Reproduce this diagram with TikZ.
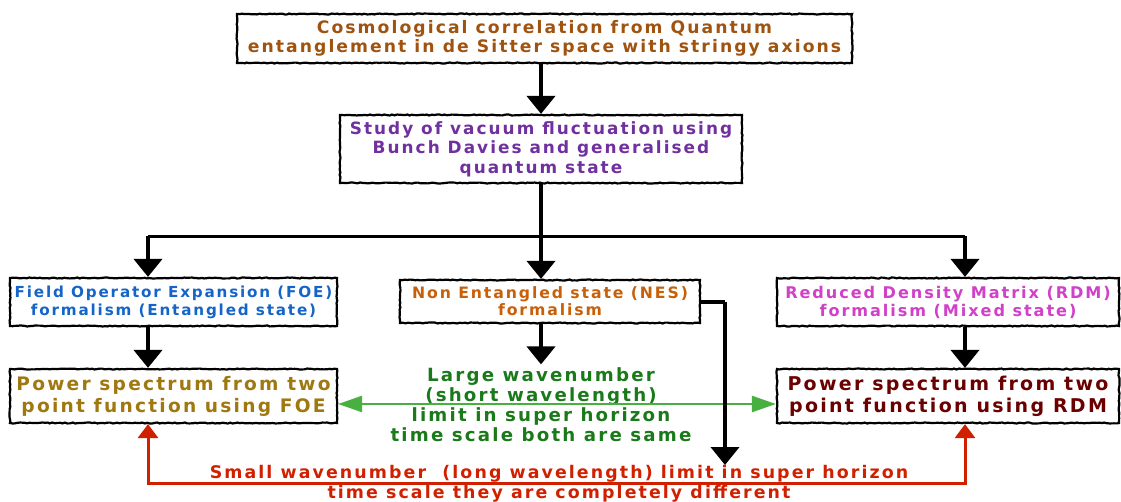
\documentclass[tikz,border=0pt]{standalone}
\usepackage{fontspec}
\setmainfont{DejaVu Sans}[LetterSpace=12]
\usepackage{tikz}
\usetikzlibrary{arrows.meta,decorations.pathmorphing}

\definecolor{topbrown}{HTML}{A0520F}
\definecolor{studypurple}{HTML}{7030A0}
\definecolor{foeblue}{HTML}{1565C8}
\definecolor{nesorange}{HTML}{C8600A}
\definecolor{rdmpink}{HTML}{D040C8}
\definecolor{pfoegold}{HTML}{A07810}
\definecolor{prdmred}{HTML}{6B0000}
\definecolor{limgreen}{HTML}{1A7A1A}
\definecolor{arrgreen}{HTML}{48B040}
\definecolor{limred}{HTML}{D02000}

\tikzset{
    box/.style={draw=black, line width=2.2pt, align=center, inner sep=2pt,
        decoration={random steps, segment length=2.5pt, amplitude=0.5pt},
        decorate},
    bigarrow/.style={line width=4pt, -{Triangle[width=28pt,length=18pt]}},
    greenarrow/.style={draw=arrgreen, line width=2.5pt,
        {Triangle[width=16pt,length=24pt]}-{Triangle[width=16pt,length=24pt]}},
    redarrow/.style={draw=limred, line width=3pt,
        {Triangle[width=20pt,length=14pt]}-{Triangle[width=20pt,length=14pt]}},
    limtext/.style={align=center}
}

\begin{document}
\begin{tikzpicture}[x=1pt, y=-1pt]
    \useasboundingbox (0,0) rectangle (1121,501);

    \node[box, text=topbrown, minimum width=615pt, minimum height=49pt,
        font=\bfseries\fontsize{17.2}{19}\selectfont] (top) at (544.5,38.5)
        {Cosmological correlation from Quantum\\entanglement in de Sitter space with stringy axions};
    \node[box, text=studypurple, minimum width=402pt, minimum height=68pt,
        font=\bfseries\fontsize{16.9}{19.5}\selectfont] (study) at (541,149)
        {Study of vacuum fluctuation using\\Bunch Davies and generalised\\quantum state};
    \node[box, text=foeblue, minimum width=327pt, minimum height=48pt,
        font=\bfseries\fontsize{15.2}{18}\selectfont] (foe) at (173.5,302)
        {Field Operator Expansion (FOE)\\formalism (Entangled state)};
    \node[box, text=nesorange, minimum width=300pt, minimum height=43pt,
        font=\bfseries\fontsize{15.7}{17}\selectfont] (nes) at (550,301.5)
        {Non Entangled state (NES)\\formalism};
    \node[box, text=rdmpink, minimum width=342pt, minimum height=48pt,
        font=\bfseries\fontsize{16.1}{18}\selectfont] (rdm) at (948,302)
        {Reduced Density Matrix (RDM)\\formalism (Mixed state)};
    \node[box, text=pfoegold, minimum width=327pt, minimum height=54pt,
        font=\bfseries\fontsize{18.6}{22}\selectfont] (pfoe) at (173.5,396)
        {Power spectrum from two\\point function using FOE};
    \node[box, text=prdmred, minimum width=342pt, minimum height=54pt,
        font=\bfseries\fontsize{19}{22}\selectfont] (prdm) at (948,396)
        {Power spectrum from two\\point function using RDM};

    \node[limtext, text=limgreen, font=\bfseries\fontsize{18.2}{20}\selectfont] (same) at (541,405)
        {Large wavenumber\\(short wavelength)\\limit in super horizon\\time scale both are same};
    \node[limtext, text=limred, font=\bfseries\fontsize{17.4}{20}\selectfont] (diff) at (559,483.5)
        {Small wavenumber\ \ (long wavelength) limit in super horizon\\time scale they are completely different};

    \coordinate (hub) at (541,236);
    \coordinate (lft) at (148,236);
    \coordinate (rgt) at (965,236);
    \coordinate (nesbend) at (725,301.5);
    \coordinate (nesend) at (725,465);
    \coordinate (gline) at (0,404);
    \coordinate (rline) at (0,483);

    \draw[bigarrow] (top.south -| study.north) -- (study.north);
    \draw[bigarrow] (study.south) -- (hub |- nes.north);
    \draw[line width=3pt] (lft) -- (rgt);
    \draw[bigarrow] (lft) -- (lft |- foe.north);
    \draw[bigarrow] (rgt) -- (rgt |- rdm.north);
    \draw[bigarrow] (lft |- foe.south) -- (lft |- pfoe.north);
    \draw[bigarrow] (rgt |- rdm.south) -- (rgt |- prdm.north);
    \draw[bigarrow] (hub |- nes.south) -- (hub |- same.north);

    \draw[greenarrow] (pfoe.east |- gline) -- (prdm.west |- gline);
    \draw[line width=4pt] (nes.east) -- (nesbend);
    \draw[bigarrow] (nesbend) -- (nesend);

    \draw[redarrow] (lft |- pfoe.south) -- (lft |- rline) -- (rgt |- rline) -- (rgt |- prdm.south);
\end{tikzpicture}
\end{document}
